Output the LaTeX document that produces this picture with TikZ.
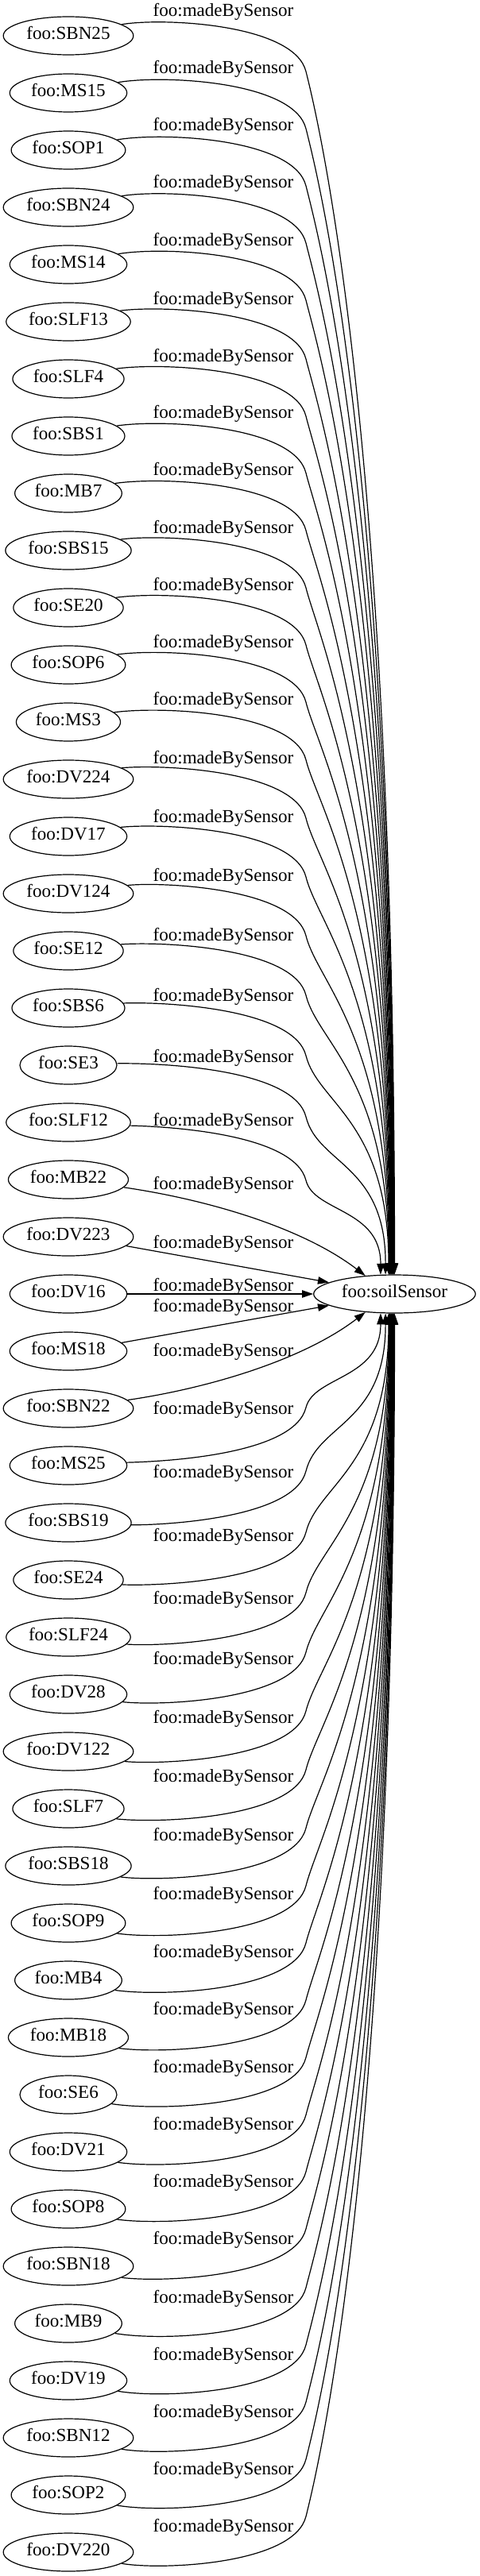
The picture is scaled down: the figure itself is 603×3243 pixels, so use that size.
\documentclass[tikz,border=0pt]{standalone}
\usepackage{fontspec}
\setmainfont{Liberation Serif}
\usetikzlibrary{arrows.meta,calc,shapes.geometric}
\begin{document}
\begin{tikzpicture}[x=0.75pt,y=-0.75pt,
  every node/.style={font=\fontsize{17.3pt}{20pt}\selectfont},
  src/.style={ellipse,draw,line width=0.9pt,inner xsep=4pt,inner ysep=1pt,
    minimum height=36pt,text height=11pt,text depth=4pt},
  lab/.style={inner sep=0pt,anchor=base},
  rel/.style={draw,line width=0.9pt,-{Triangle[length=10.5pt,width=7pt]}}]
\useasboundingbox (0,0) rectangle (603,3243);
\node[src] (ss) at (496.5,1629) {foo:soilSensor};
\foreach \nm [count=\i from 0] in {SBN25,MS15,SOP1,SBN24,MS14,SLF13,SLF4,SBS1,MB7,SBS15,SE20,SOP6,MS3,DV224,DV17,DV124,SE12,SBS6,SE3,SLF12,MB22,DV223,DV16,MS18,SBN22,MS25,SBS19,SE24,SLF24,DV28,DV122,SLF7,SBS18,SOP9,MB4,MB18,SE6,DV21,SOP8,SBN18,MB9,DV19,SBN12,SOP2,DV220}
  \node[src] (n\i) at (86,45+72*\i) {foo:\nm};
\foreach \yl [count=\i from 0] in {14,86,158,230,302,376,448,519.5,591.7,664,736,808,880.6,954,1028,1102,1177,1253,1330,1410,1490,1564,1618,1644,1700,1773,1853,1933,2012,2088,2162,2236,2310,2384,2457,2529,2602,2674,2746,2818,2892,2964,3036,3108,3180}
  \node[lab] (l\i) at (281,\yl+7) {foo:madeBySensor};
\foreach \i/\yl/\sA/\sB/\eA/\eB in {0/14/12/-12/90/-90,1/86/12/-12/91/-91,2/158/12/-12/92/-92,3/230/12/-12/93/-93,4/302/12/-12/94/-94,5/376/12/-12/95/-95,6/448/12/-12/96/-96,7/519.5/12/-12/97/-97,8/591.7/12/-12/98/-98,9/664/12/-12/99/-99,10/736/12/-12/100/-100,11/808/12/-12/101/-101,12/880.6/12/-12/102/-102,13/954/12/-12/103/-103,14/1028/10/-10/104/-104,15/1102/8/-8/105/-105,16/1177/7/-7/106/-106,17/1253/5/-5/107/-107,18/1330/2/-2/115/-115,19/1410/-3/3/126/-126}{
  \pgfmathtruncatemacro\j{44-\i}
  \pgfmathsetmacro\yA{\yl+11}
  \pgfmathsetmacro\Ky{\yA+65}
  \pgfmathsetmacro\tq{1/sqrt((cos(\eA)/101.8)^2+(sin(\eA)/24)^2)}
  \pgfmathsetmacro\Ey{1629-\tq*sin(\eA)}
  \pgfmathsetmacro\Ex{496.5+\tq*cos(\eA)}
  \pgfmathsetmacro\dY{\Ey-\Ky}
  \pgfmathsetmacro\uu{min(15,\dY/12)}
  \pgfmathsetmacro\yB{3258-\yA}
  \pgfmathsetmacro\KyB{3258-\Ky}
  \draw[rel] (n\i.\sA) .. controls (205,\yA-3) and (370,\yA+5) .. (385,\Ky)
    .. controls (385+\uu,\Ky+4*\uu) and (\Ex,\Ky+0.3*\dY) .. (ss.\eA);
  \draw[rel] (n\j.\sB) .. controls (205,\yB+3) and (370,\yB-5) .. (385,\KyB)
    .. controls (385+\uu,\KyB-4*\uu) and (\Ex,\KyB-0.3*\dY) .. (ss.\eB);
}
\draw[rel] (n20.-8) .. controls (260,1510) and (380,1545) .. (ss.148);
\draw[rel] (n24.8) .. controls (260,1748) and (380,1713) .. (ss.-148);
\draw[rel] (n21.-9) -- (ss.170);
\draw[rel] (n23.9) -- (ss.-170);
\draw[rel] (n22) -- (ss);
\end{tikzpicture}
\end{document}
